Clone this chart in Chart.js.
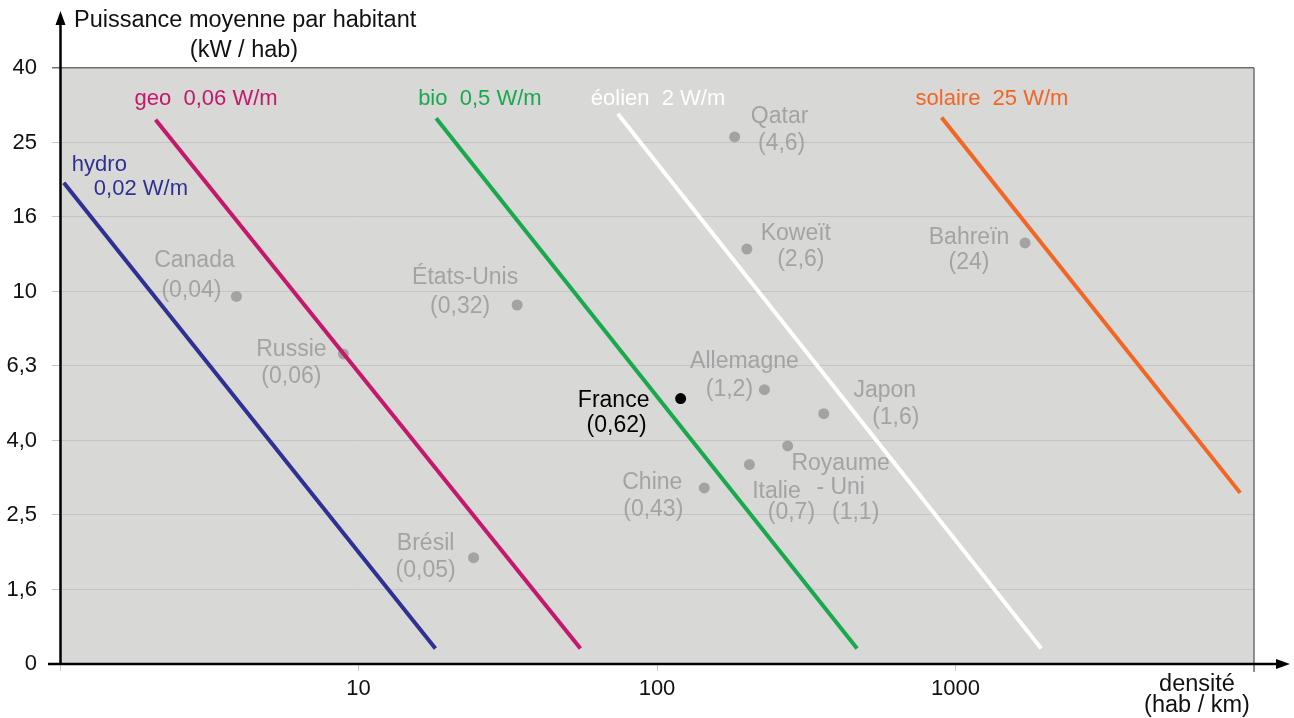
<!DOCTYPE html>
<html lang="fr">
<head>
<meta charset="utf-8">
<title>Puissance moyenne par habitant</title>
<script src="https://cdn.jsdelivr.net/npm/chart.js@4.4.1/dist/chart.umd.min.js"></script>
<style>
  html, body { margin: 0; padding: 0; background: #fff; }
  #wrap { width: 1294px; height: 718px; }
</style>
</head>
<body>
<div id="wrap"><canvas id="chart" width="1294" height="718"></canvas></div>
<script>
// ========== données ==========
const countryNames = ['Canada', 'Russie', 'États-Unis', 'Brésil', 'Qatar', 'Koweït', 'Bahreïn',
    'Allemagne', 'Japon', 'France', 'Royaume\n- Uni', 'Italie', 'Chine'];
const countryDensity = [3.9, 8.9, 34, 24.3, 182, 200, 1710, 229, 362, 120, 274, 204, 144];   // hab / km²
const countryPower = [9.7, 6.8, 9.2, 1.93, 26, 13, 13.5, 5.45, 4.7, 5.16, 3.85, 3.43, 2.97];  // kW / hab
const countryNeed = [0.04, 0.06, 0.32, 0.05, 4.6, 2.6, 24, 1.2, 1.6, 0.62, 1.1, 0.7, 0.43];   // W/m²

const sourceNames = ['hydro', 'geo', 'bio', 'éolien', 'solaire'];
const sourcePowerDensity = [0.02, 0.06, 0.5, 2, 25];   // W/m²
const lineStartX = [1.03, 2.09, 18.2, 73.9, 898];
const lineStartY = [19.6, 28.9, 29.2, 30.0, 29.3];
const lineEndX = [18.1, 55.4, 468, 1937, 8990];
const lineEndY = [1.1, 1.1, 1.1, 1.1, 2.88];

const xTickValues = [1, 10, 100, 1000, 10000];
const xTickLabels = ['', '10', '100', '1000', ''];
const yTickValues = [1, 1.585, 2.512, 3.981, 6.31, 10, 15.85, 25.12, 39.81];
const yTickLabels = ['0', '1,6', '2,5', '4,0', '6,3', '10', '16', '25', '40'];

// ========== styles ==========
const FONT = '"Liberation Sans", Arial, Helvetica, sans-serif';
const sourceColors = ['#2e3192', '#c5176b', '#19a84b', '#ffffff', '#f26522'];
const plotBg = '#d8d9d7';
const countryGrey = '#a3a3a3';

// décalages des étiquettes (px) par rapport au point / au début de la droite
const countryLabelOffsets = [
    [[-42, -36], [-45, -6]],
    [[-52, -4], [-52, 23]],
    [[-52, -27], [-57, 2]],
    [[-48, -14], [-48, 13]],
    [[45, -20], [47, 7]],
    [[49, -15], [54, 11]],
    [[-56, -5], [-56, 20]],
    [[-20, -28], [-35, 0]],
    [[61, -23], [72, 4]],
    [[-67, 2], [-64, 27]],
    [[53, 18], [53, 42], [68, 67]],
    [[27, 27], [42, 48]],
    [[-52, -5], [-51, 22]]
];
const sourceLabelOffsets = [
    [[8, -18], [30, 6]],
    [[-21, -21]],
    [[-18, -19]],
    [[-27, -15]],
    [[-26, -19]]
];

const fmt = v => String(v).replace('.', ',');

// ========== datasets ==========
const lineDatasets = sourceNames.map((name, i) => ({
    label: name,
    data: [{ x: lineStartX[i], y: lineStartY[i] }, { x: lineEndX[i], y: lineEndY[i] }],
    showLine: true,
    borderColor: sourceColors[i],
    borderWidth: 4,
    borderCapStyle: 'butt',
    pointRadius: 0
}));

const countryDataset = {
    label: 'pays',
    data: countryNames.map((n, i) => ({ x: countryDensity[i], y: countryPower[i] })),
    backgroundColor: countryNames.map(n => n === 'France' ? '#000' : countryGrey),
    borderWidth: 0,
    pointRadius: 5.5
};

// ========== plugin : fond, axes, textes ==========
const decorPlugin = {
    id: 'decor',
    beforeDraw(chart) {
        const { ctx, chartArea: a } = chart;
        ctx.save();
        ctx.fillStyle = plotBg;
        ctx.fillRect(a.left, a.top, a.right - a.left, a.bottom - a.top);
        ctx.restore();
    },
    afterDatasetsDraw(chart) {
        const ctx = chart.ctx;
        ctx.save();
        ctx.textBaseline = 'middle';

        // étiquettes des pays
        ctx.font = '23px ' + FONT;
        ctx.textAlign = 'center';
        const meta = chart.getDatasetMeta(lineDatasets.length);
        meta.data.forEach((pt, i) => {
            const lines = countryNames[i].split('\n').concat('(' + fmt(countryNeed[i]) + ')');
            ctx.fillStyle = countryNames[i] === 'France' ? '#000' : countryGrey;
            lines.forEach((t, k) => {
                const off = countryLabelOffsets[i][k];
                ctx.fillText(t, pt.x + off[0], pt.y + off[1]);
            });
        });

        // étiquettes des droites
        ctx.font = '22px ' + FONT;
        ctx.textAlign = 'left';
        sourceNames.forEach((name, i) => {
            const p0 = chart.getDatasetMeta(i).data[0];
            const val = fmt(sourcePowerDensity[i]) + ' W/m';
            const lines = i === 0 ? [name, val] : [name + '  ' + val];
            ctx.fillStyle = sourceColors[i];
            lines.forEach((t, k) => {
                const off = sourceLabelOffsets[i][k];
                ctx.fillText(t, p0.x + off[0], p0.y + off[1]);
            });
        });
        ctx.restore();
    },
    afterDraw(chart) {
        const { ctx, chartArea: a } = chart;
        ctx.save();

        // bord droit
        ctx.strokeStyle = '#6e6e6e';
        ctx.lineWidth = 1.5;
        ctx.beginPath();
        ctx.moveTo(a.right, a.top);
        ctx.lineTo(a.right, a.bottom + 8);
        ctx.stroke();

        // axes noirs avec flèches
        ctx.strokeStyle = '#000';
        ctx.fillStyle = '#000';
        ctx.lineWidth = 2.5;
        ctx.beginPath();
        ctx.moveTo(a.left + 0.5, a.bottom);
        ctx.lineTo(a.left + 0.5, 22);
        ctx.moveTo(48, a.bottom);
        ctx.lineTo(1280, a.bottom);
        ctx.stroke();
        ctx.beginPath();
        ctx.moveTo(a.left + 0.5, 11);
        ctx.lineTo(a.left - 4.5, 25);
        ctx.lineTo(a.left + 5.5, 25);
        ctx.closePath();
        ctx.fill();
        ctx.beginPath();
        ctx.moveTo(1290, a.bottom);
        ctx.lineTo(1276, a.bottom - 5);
        ctx.lineTo(1276, a.bottom + 5);
        ctx.closePath();
        ctx.fill();

        // titres des axes
        ctx.fillStyle = '#111';
        ctx.font = '23.5px ' + FONT;
        ctx.textBaseline = 'middle';
        ctx.textAlign = 'left';
        ctx.fillText('Puissance moyenne par habitant', 74, 21);
        ctx.textAlign = 'center';
        ctx.fillText('(kW / hab)', 244, 51);
        ctx.fillText('densité', 1197, 685);
        ctx.fillText('(hab / km)', 1197, 706);
        ctx.restore();
    }
};

// ========== graphique ==========
new Chart(document.getElementById('chart'), {
    type: 'scatter',
    data: { datasets: [...lineDatasets, countryDataset] },
    options: {
        responsive: false,
        animation: false,
        events: [],
        layout: { padding: { top: 68, right: 40, left: 0, bottom: 0 } },
        plugins: { legend: { display: false }, tooltip: { enabled: false } },
        scales: {
            x: {
                type: 'logarithmic',
                min: 1,
                max: 10000,
                afterBuildTicks: s => { s.ticks = xTickValues.map(v => ({ value: v })); },
                afterFit: s => { s.height = 54; },
                border: { display: false },
                grid: { drawOnChartArea: false, drawTicks: true, tickLength: 7, tickColor: '#c9c9c9', lineWidth: 1 },
                ticks: {
                    autoSkip: false,
                    maxRotation: 0,
                    padding: 5,
                    color: '#111',
                    font: { family: FONT, size: 22 },
                    callback: (v, i) => xTickLabels[i]
                }
            },
            y: {
                type: 'logarithmic',
                min: yTickValues[0],
                max: yTickValues[yTickValues.length - 1],
                afterBuildTicks: s => { s.ticks = yTickValues.map(v => ({ value: v })); },
                afterFit: s => { s.width = 60; },
                border: { display: false },
                grid: {
                    color: c => c.index === yTickValues.length - 1 ? '#6e6e6e' : '#c3c4c3',
                    lineWidth: c => c.index === yTickValues.length - 1 ? 1.5 : 1,
                    tickLength: 8
                },
                ticks: {
                    padding: 15,
                    color: '#111',
                    font: { family: FONT, size: 22 },
                    callback: (v, i) => yTickLabels[i]
                }
            }
        }
    },
    plugins: [decorPlugin]
});
</script>
</body>
</html>
